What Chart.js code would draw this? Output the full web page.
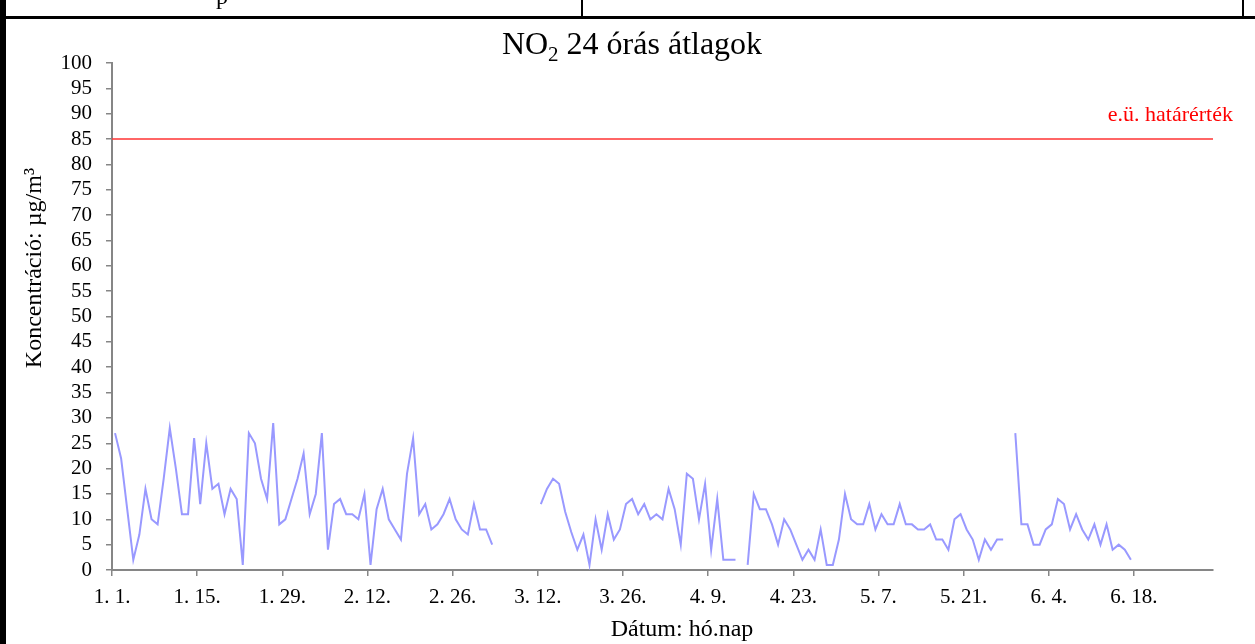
<!DOCTYPE html>
<html lang="hu">
  <head>
    <meta charset="utf-8">
    <title>NO2 24 órás átlagok</title>
    <style>
      html, body {
        margin: 0;
        padding: 0;
        background: #fff;
      }
      #wrapper {
        position: relative;
        width: 1255px;
        height: 644px;
        overflow: hidden;
      }
      canvas { display: block; }
      .frame { position: absolute; background: #000; }
      #cut {
        position: absolute;
        left: 216px;
        top: -17px;
        font: 24px "Liberation Serif", serif;
      }
    </style>
  </head>
  <body>
    <div id="wrapper">
      <canvas id="canvas" width="1255" height="644"></canvas>
      <div class="frame" style="left:0;top:0;width:6px;height:644px"></div>
      <div class="frame" style="left:0;top:16px;width:1255px;height:3px"></div>
      <div class="frame" style="left:581px;top:0;width:2px;height:17px"></div>
      <div class="frame" style="left:1242px;top:0;width:2px;height:17px"></div>
      <span id="cut">p</span>
    </div>

    <script src="https://cdn.jsdelivr.net/npm/chart.js"></script>
    <script>
      // NO2 napi átlagok, 1. 1.-től napi bontásban (null = nincs adat)
      let no2 = [
        27, 22, 12, 2, 7, 16, 10, 9, 18, 28,
        20, 11, 11, 26, 13, 25, 16, 17, 11, 16,
        14, 1, 27, 25, 18, 14, 29, 9, 10, 14,
        18, 23, 11, 15, 27, 4, 13, 14, 11, 11,
        10, 15, 1, 12, 16, 10, 8, 6, 19, 26,
        11, 13, 8, 9, 11, 14, 10, 8, 7, 13,
        8, 8, 5, null, null, null, null, null, null, null,
        13, 16, 18, 17, 11.5, 7.5, 4, 7, 1, 10,
        4, 11, 6, 8, 13, 14, 11, 13, 10, 11,
        10, 16, 12, 5, 19, 18, 10, 17, 4, 14,
        2, 2, 2, null, 1, 15, 12, 12, 9, 5,
        10, 8, 5, 2, 4, 2, 8, 1, 1, 6,
        15, 10, 9, 9, 13, 8, 11, 9, 9, 13,
        9, 9, 8, 8, 9, 6, 6, 4, 10, 11,
        8, 6, 2, 6, 4, 6, 6, null, 27, 9,
        9, 5, 5, 8, 9, 14, 13, 8, 11, 8,
        6, 9, 5, 9, 4, 5, 4, 2
      ];
      let tickDays = [0, 14, 28, 42, 56, 70, 84, 98, 112, 126, 140, 154, 168];
      let tickLabels = ['1. 1.', '1. 15.', '1. 29.', '2. 12.', '2. 26.', '3. 12.', '3. 26.',
                        '4. 9.', '4. 23.', '5. 7.', '5. 21.', '6. 4.', '6. 18.'];
      let limitValue = 85;
      let limitLabel = 'e.ü. határérték';
      let xEnd = 181;

      let serif = '"Liberation Serif", "Times New Roman", serif';
      let axisGray = '#868686';

      let data = no2.map((v, i) => ({x: i + 0.5, y: v}));

      let textPlugin = {
        id: 'texts',
        afterDraw(chart) {
          let ctx = chart.ctx;
          let yScale = chart.scales.y;
          ctx.save();
          ctx.fillStyle = '#000';

          // cím alsó indexszel
          let big = '32px ' + serif, small = '21px ' + serif;
          ctx.font = big;
          let wNO = ctx.measureText('NO').width;
          let rest = ' 24 órás átlagok';
          let wRest = ctx.measureText(rest).width;
          ctx.font = small;
          let w2 = ctx.measureText('2').width;
          let x0 = 632 - (wNO + w2 + wRest) / 2;
          ctx.textBaseline = 'alphabetic';
          ctx.font = big;
          ctx.fillText('NO', x0, 54);
          ctx.font = small;
          ctx.fillText('2', x0 + wNO, 61);
          ctx.font = big;
          ctx.fillText(rest, x0 + wNO + w2, 54);

          // x tengely címe
          ctx.font = '24px ' + serif;
          ctx.textAlign = 'center';
          ctx.fillText('Dátum: hó.nap', 682, 636);

          // y tengely címe
          ctx.save();
          ctx.translate(41, 268);
          ctx.rotate(-Math.PI / 2);
          ctx.font = '24px ' + serif;
          ctx.fillText('Koncentráció: µg/m³', 0, 0);
          ctx.restore();

          // határérték felirat
          ctx.fillStyle = '#ff0000';
          ctx.font = '22px ' + serif;
          ctx.textAlign = 'right';
          ctx.fillText(limitLabel, 1233, yScale.getPixelForValue(limitValue) - 18);
          ctx.restore();
        }
      };

      let options = {
        type: 'line',
        data: {
          datasets: [{
            label: 'NO2',
            data: data,
            borderColor: '#9999ff',
            borderWidth: 2,
            pointRadius: 0,
            pointHoverRadius: 0,
            spanGaps: false,
            tension: 0
          }, {
            label: limitLabel,
            data: [{x: 0, y: limitValue}, {x: xEnd, y: limitValue}],
            borderColor: '#ff3333',
            borderWidth: 1.5,
            pointRadius: 0,
            pointHoverRadius: 0
          }]
        },
        options: {
          responsive: false,
          animation: false,
          events: [],
          layout: {padding: {left: 0, right: 42, top: 63, bottom: 0}},
          plugins: {legend: {display: false}, tooltip: {enabled: false}, title: {display: false}},
          scales: {
            x: {
              type: 'linear',
              min: 0,
              max: xEnd,
              afterBuildTicks: axis => { axis.ticks = tickDays.map(v => ({value: v})); },
              afterFit: axis => { axis.height = 74; },
              grid: {drawOnChartArea: false, color: axisGray, tickLength: 6, lineWidth: 1.5},
              border: {color: axisGray, width: 2},
              ticks: {
                color: '#000',
                font: {family: serif, size: 21},
                padding: 9,
                maxRotation: 0,
                autoSkip: false,
                callback: v => tickLabels[tickDays.indexOf(v)] || ''
              }
            },
            y: {
              min: 0,
              max: 100,
              afterFit: axis => { axis.width = 112; },
              grid: {drawOnChartArea: false, color: axisGray, tickLength: 6, lineWidth: 1.5},
              border: {color: axisGray, width: 2},
              ticks: {
                stepSize: 5,
                color: '#000',
                font: {family: serif, size: 21},
                padding: 14,
                autoSkip: false
              }
            }
          }
        },
        plugins: [textPlugin]
      };

      let chart = new Chart(document.getElementById('canvas'), options);
    </script>
  </body>
</html>
